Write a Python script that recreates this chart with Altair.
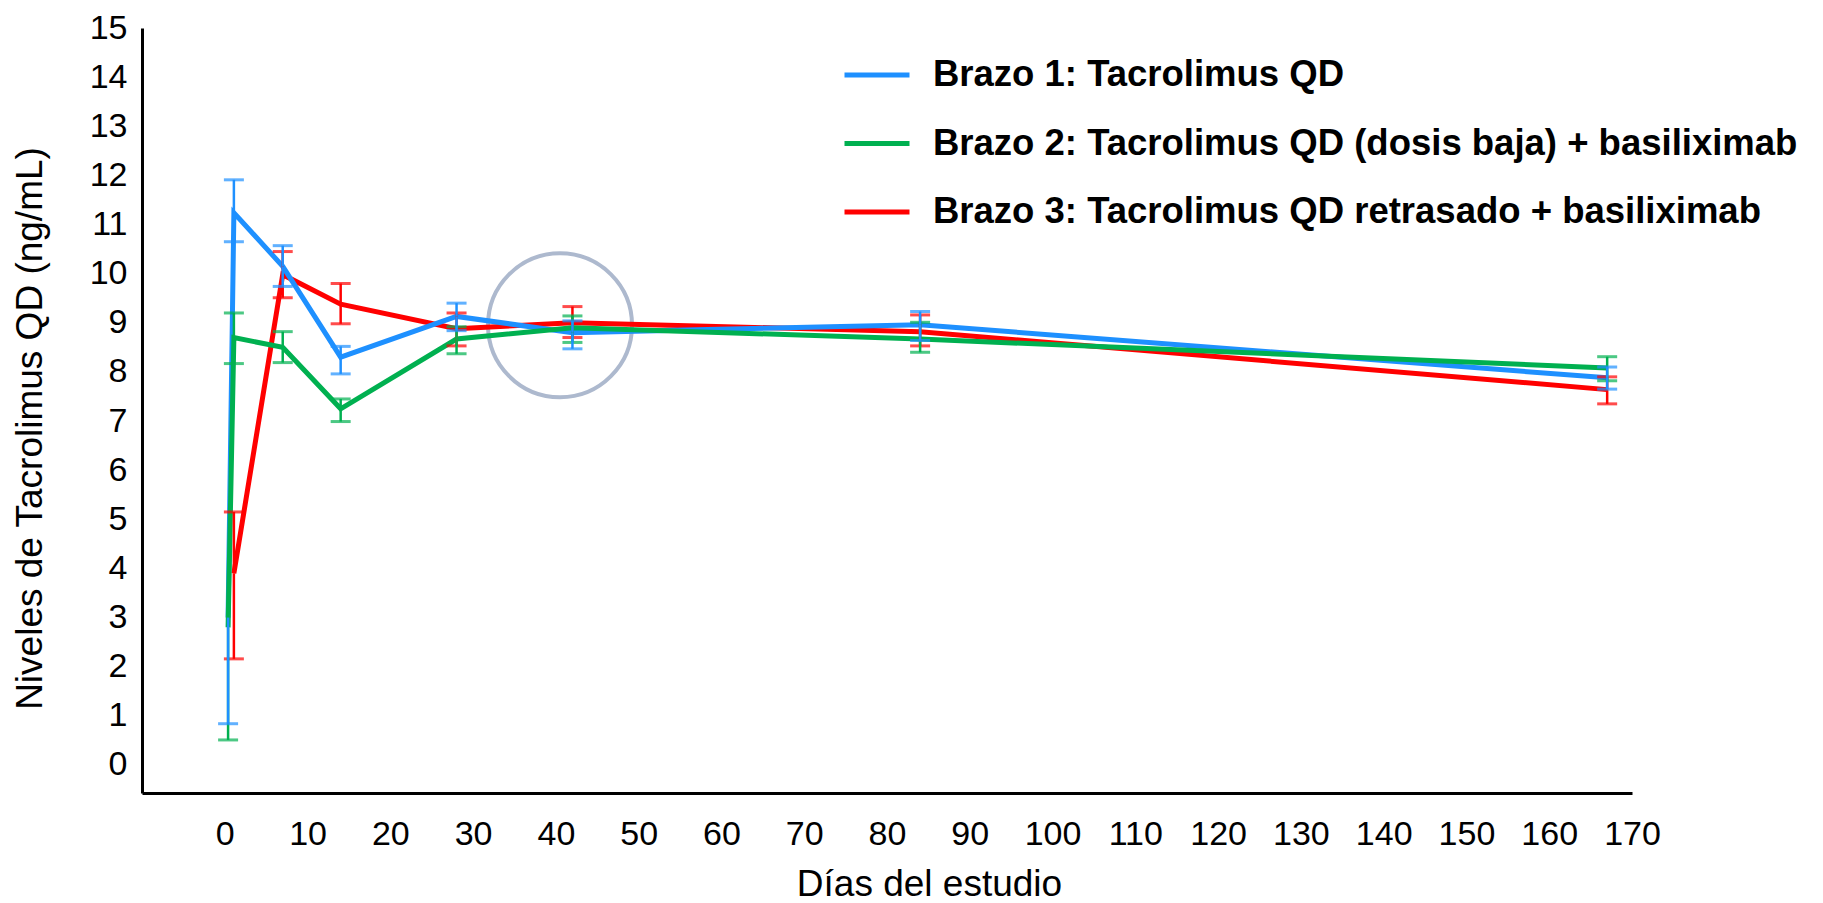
import altair as alt
import pandas as pd

# ---------------- data ----------------
nombres = [
    "Brazo 1: Tacrolimus QD",
    "Brazo 2: Tacrolimus QD (dosis baja) + basiliximab",
    "Brazo 3: Tacrolimus QD retrasado + basiliximab",
]
colores = ["#1E90FF", "#00B050", "#FF0000"]

dias_b1 = [0.4, 1.1, 7, 14, 28, 42, 84, 167]
media_b1 = [3.0, 11.24, 10.15, 8.30, 9.13, 8.80, 8.96, 7.88]
inf_b1 = [0.84, 10.65, 9.74, 7.96, 8.84, 8.47, 8.64, 7.65]
sup_b1 = [None, 11.91, 10.57, 8.52, 9.40, 9.04, 9.23, 8.10]

dias_b2 = [0.4, 1.1, 7, 14, 28, 42, 84, 167]
media_b2 = [2.8, 8.70, 8.50, 7.25, 8.67, 8.90, 8.67, 8.08]
inf_b2 = [0.51, 8.17, 8.19, 6.99, 8.37, 8.60, 8.40, 7.82]
sup_b2 = [None, 9.20, 8.82, 7.45, 8.92, 9.14, 9.01, 8.31]

dias_b3 = [1.1, 7, 14, 28, 42, 84, 167]
media_b3 = [3.9, 9.98, 9.38, 8.88, 9.00, 8.82, 7.64]
inf_b3 = [2.16, 9.51, 8.98, 8.53, 8.70, 8.53, 7.35]
sup_b3 = [5.15, 10.45, 9.80, 9.20, 9.33, 9.16, 7.90]

x_ticks = [0, 10, 20, 30, 40, 50, 60, 70, 80, 90, 100, 110, 120, 130, 140, 150, 160, 170]
y_ticks = [0, 1, 2, 3, 4, 5, 6, 7, 8, 9, 10, 11, 12, 13, 14, 15]

circulo_dia = [40.5]
circulo_valor = [8.95]

# ---------------- tables ----------------
frames = []
for nombre, d, m, lo, hi in [
    (nombres[0], dias_b1, media_b1, inf_b1, sup_b1),
    (nombres[1], dias_b2, media_b2, inf_b2, sup_b2),
    (nombres[2], dias_b3, media_b3, inf_b3, sup_b3),
]:
    frames.append(pd.DataFrame({"brazo": nombre, "dia": d, "valor": m, "inf": lo, "sup": hi}))
df = pd.concat(frames, ignore_index=True)
circ = pd.DataFrame({"dia": circulo_dia, "valor": circulo_valor})

FONT = "Liberation Sans"

x_axis = alt.Axis(
    values=x_ticks, title="Días del estudio", grid=False, ticks=False, tickSize=0,
    domainColor="black", domainWidth=3, labelFont=FONT, labelFontSize=34,
    labelColor="black", labelBaseline="middle", labelPadding=41, labelFlush=False,
    labelOverlap=False, titleFont=FONT, titleFontSize=37, titleFontWeight="normal",
    titleColor="black", titleX=787, titleY=91, titleBaseline="middle", titleAlign="center",
)
y_axis = alt.Axis(
    values=y_ticks, title="Niveles de Tacrolimus QD (ng/mL)", grid=False, ticks=False,
    tickSize=0, domainColor="black", domainWidth=3, labelFont=FONT, labelFontSize=34,
    labelColor="black", labelPadding=15, labelOverlap=False, labelFlush=False,
    titleFont=FONT, titleFontSize=37, titleFontWeight="normal", titleColor="black",
    titleX=-112, titleY=400, titleAngle=270, titleBaseline="middle", titleAlign="center",
)
x_scale = alt.Scale(domain=[-10, 170], nice=False, zero=False)
y_scale = alt.Scale(domain=[-0.57, 15], nice=False, zero=False)

X = alt.X("dia:Q", scale=x_scale, axis=x_axis)
Y = alt.Y("valor:Q", scale=y_scale, axis=y_axis)

legend = alt.Legend(
    title=None, orient="none", legendX=700, legendY=12, direction="vertical",
    symbolType="stroke", symbolSize=4225, symbolStrokeWidth=5,
    labelFont=FONT, labelFontSize=36.5, labelFontWeight="bold", labelColor="black",
    labelOffset=21, labelLimit=0, rowPadding=14.5, padding=0,
)
color = alt.Color("brazo:N", scale=alt.Scale(domain=nombres, range=colores), legend=legend)

base = alt.Chart(df)

circle = alt.Chart(circ).mark_point(
    shape="circle", filled=False, size=20736, strokeWidth=4, color="#ADB9CE", opacity=1
).encode(x=X, y=Y)

layers = [circle]
# lines: red at bottom, then blue, then green
for idx in [2, 0, 1]:
    layers.append(
        base.transform_filter(alt.datum.brazo == nombres[idx])
        .mark_line(strokeWidth=5)
        .encode(x=X, y=Y, color=color)
    )

# error bars: red, green, blue (blue on top)
for idx in [2, 1, 0]:
    col = colores[idx]
    sub = base.transform_filter(alt.datum.brazo == nombres[idx])
    layers.append(
        sub.mark_rule(strokeWidth=2.5, color=col).encode(
            x=X, y=alt.Y("inf:Q", scale=y_scale, axis=y_axis), y2="valor:Q"
        )
    )
    layers.append(
        sub.transform_filter("isValid(datum.sup)")
        .mark_rule(strokeWidth=2.5, color=col)
        .encode(x=X, y=alt.Y("valor:Q", scale=y_scale, axis=y_axis), y2="sup:Q")
    )
    layers.append(
        sub.mark_tick(orient="horizontal", size=20, thickness=3, color=col).encode(
            x=X, y=alt.Y("inf:Q", scale=y_scale, axis=y_axis)
        )
    )
    layers.append(
        sub.transform_filter("isValid(datum.sup)")
        .mark_tick(orient="horizontal", size=20, thickness=3, color=col)
        .encode(x=X, y=alt.Y("sup:Q", scale=y_scale, axis=y_axis))
    )

chart = (
    alt.layer(*layers)
    .properties(
        width=1490,
        height=765,
        padding={"left": 142, "top": 28, "right": 191, "bottom": 110},
        autosize=alt.AutoSizeParams(type="none"),
        background="white",
    )
    .configure_view(stroke=None)
)

chart.save("out.html", embed_options={"renderer": "svg", "actions": False})
